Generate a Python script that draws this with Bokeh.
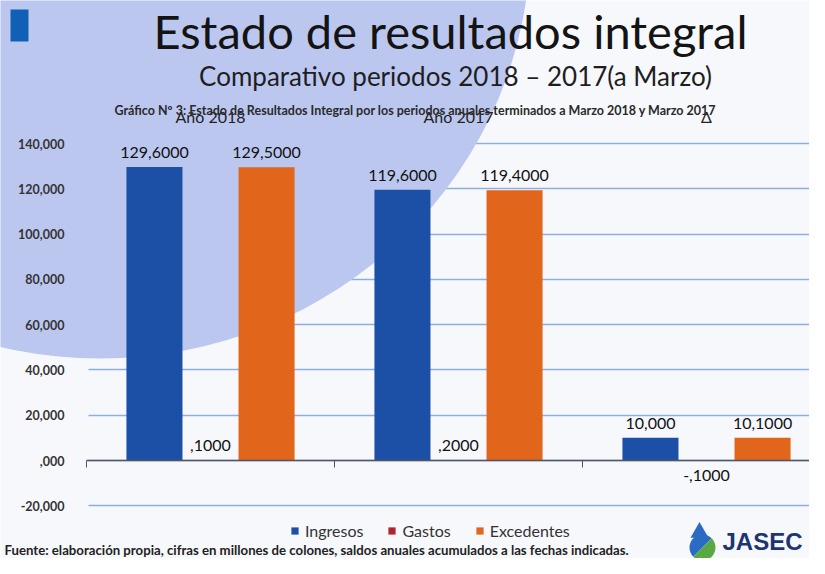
from bokeh.plotting import figure
from bokeh.models import ColumnDataSource, FixedTicker, Label, Legend, LegendItem, Range1d, LinearAxis
from bokeh.core.properties import value
from bokeh.embed import file_html
from bokeh.resources import INLINE

# ---------------- data ----------------
categories = ["Año 2018", "Año 2017", "Δ"]
ingresos = [129.6, 119.6, 10.0]
gastos = [0.1, 0.2, -0.1]
excedentes = [129.5, 119.4, 10.1]
ingresos_labels = ["129,6000", "119,6000", "10,000"]
gastos_labels = [",1000", ",2000", "-,1000"]
excedentes_labels = ["129,5000", "119,4000", "10,1000"]
y_ticks = [-20, 0, 20, 40, 60, 80, 100, 120, 140]
y_tick_labels = ["-20,000", ",000", "20,000", "40,000", "60,000", "80,000",
                 "100,000", "120,000", "140,000"]
series_names = ["Ingresos", "Gastos", "Excedentes"]
series_colors = ["#1c4fa6", "#b0262c", "#e2651c"]

# ---------------- geometry (page layout) ----------------
W, H = 809, 558
PX = 248.0            # pixels per category
PY = 317.0 / 140.0    # pixels per unit of value
X0 = 210.0            # px of first category centre
Y0 = 460.0            # px of zero line
xs = -X0 / PX
xe = xs + W / PX
yt = Y0 / PY
yb = -(H - Y0) / PY


def fx(px):
    return xs + px / PX


def fy(py):
    return (Y0 - py) / PY


def lab(text, x, baseline, size, align="center", font="Lato", style="normal", color="#141414"):
    # place a label so that its alphabetic baseline sits at pixel row `baseline`
    return Label(x=x, y=H - (baseline - 0.37 * size), x_units="screen", y_units="screen",
                 text=text, text_align=align, text_baseline="alphabetic",
                 text_font=font, text_font_style=style,
                 text_font_size=f"{size}px", text_color=color)


p = figure(width=W, height=H, x_range=Range1d(xs, xe), y_range=Range1d(yb, yt),
           output_backend="svg", toolbar_location=None, title=None,
           min_border=0, min_border_left=0, min_border_right=0,
           min_border_top=0, min_border_bottom=0,
           background_fill_color="#f7f8fc", border_fill_color="#f7f8fc",
           outline_line_color=None)

# background decorative shape (light blue disc)
p.ellipse(x=[fx(100)], y=[fy(-60)], width=860 / PX, height=836 / PY,
          fill_color="#bcc7f0", line_color=None)
# small blue block top-left
p.quad(left=[fx(10)], right=[fx(28)], top=[fy(9)], bottom=[fy(41)],
       fill_color="#1160b6", line_color=None)

# grid
p.xgrid.visible = False
p.ygrid.ticker = FixedTicker(ticks=y_ticks)
p.ygrid.grid_line_color = "#8eafdd"
p.ygrid.grid_line_width = 1.6
try:
    p.ygrid.cross_bounds = (fx(88), xe)
except Exception:
    pass

# y axis
p.yaxis.fixed_location = fx(88)
p.yaxis.ticker = FixedTicker(ticks=y_ticks)
p.yaxis.major_label_overrides = {t: l for t, l in zip(y_ticks, y_tick_labels)}
p.yaxis.axis_line_color = None
p.yaxis.major_tick_line_color = None
p.yaxis.minor_tick_line_color = None
p.yaxis.major_label_standoff = 18
p.yaxis.major_label_text_font = "Lato"
p.yaxis.major_label_text_font_style = "bold"
p.yaxis.major_label_text_font_size = "12.5px"
p.yaxis.major_label_text_color = "#333333"

# x axis (zero line with category separators as minor ticks, no labels)
p.xaxis.fixed_location = 0
p.xaxis.ticker = FixedTicker(ticks=[], minor_ticks=[-0.5, 0.5, 1.5])
p.xaxis.bounds = (-0.5, xe)
p.xaxis.axis_line_color = "#55555f"
p.xaxis.axis_line_width = 1.6
p.xaxis.major_tick_line_color = None
p.xaxis.minor_tick_line_color = "#55555f"
p.xaxis.minor_tick_out = 7
p.xaxis.minor_tick_in = 0

# category labels axis (placed high, like the original)
cat_axis = LinearAxis(fixed_location=fy(131), ticker=FixedTicker(ticks=[0, 1, 2]),
                      major_label_overrides={i: c for i, c in enumerate(categories)},
                      axis_line_color=None, major_tick_line_color=None,
                      minor_tick_line_color=None, major_label_standoff=0,
                      major_label_text_font="Lato", major_label_text_font_size="16px",
                      major_label_text_color="#222222")
p.add_layout(cat_axis, "above")

# bars
bw = 0.226
offsets = [-bw, 0.0, bw]
series_vals = [ingresos, gastos, excedentes]
series_labels = [ingresos_labels, gastos_labels, excedentes_labels]
renderers = []
for name, vals, labs, off, col in zip(series_names, series_vals, series_labels, offsets, series_colors):
    xpos = [i + off for i in range(len(categories))]
    src = ColumnDataSource(dict(
        x=xpos, top=vals, text=labs,
        baseline=["bottom" if v >= 0 else "top" for v in vals],
        yoff=[-9 if v >= 0 else 9 for v in vals],
    ))
    r = p.vbar(x="x", top="top", bottom=0, width=bw, source=src,
               fill_color=col, line_color=None)
    renderers.append((name, r))
    p.text(x="x", y="top", text="text", source=src, text_align="center",
           text_baseline="baseline", y_offset="yoff",
           text_font=value("Lato"), text_font_size="16px", text_color="#111111")

legend = Legend(items=[LegendItem(label=n, renderers=[r]) for n, r in renderers],
                orientation="horizontal", location=(290, H - 540),
                background_fill_alpha=0, border_line_color=None,
                label_text_font="Lato", label_text_font_size="16px",
                label_text_color="#333333", glyph_width=9, glyph_height=9,
                label_standoff=6, spacing=24, padding=0, margin=0)
p.add_layout(legend)

# titles
p.add_layout(lab("Estado de resultados integral", 450, 48, 47))
p.add_layout(lab("Comparativo periodos 2018 – 2017(a Marzo)", 455, 85, 26, color="#1e1e1e"))
p.add_layout(lab("Gráfico Nº 3: Estado de Resultados Integral por los periodos anuales terminados a Marzo 2018 y Marzo 2017",
                 415, 115, 12.5, style="bold", color="#2a2a2a"))
p.add_layout(lab("Fuente: elaboración propia, cifras en millones de colones, saldos anuales acumulados a las fechas indicadas.",
                 4, 554, 13.2, align="left", style="bold", color="#222222"))

# JASEC logo (approximation)
p.wedge(x=[fx(702)], y=[fy(547)], radius=13 / PX, start_angle=0.785, end_angle=3.927,
        fill_color="#2a6cc4", line_color=None)
p.wedge(x=[fx(702)], y=[fy(547)], radius=13 / PX, start_angle=3.927, end_angle=0.785,
        fill_color="#5aa844", line_color=None)
p.scatter(x=[fx(699)], y=[fy(532)], size=18, marker="triangle",
          fill_color="#2a6cc4", line_color=None)
p.add_layout(lab("JASEC", 722, 550, 24, align="left", font="Liberation Sans",
                 style="bold", color="#1d3570"))

open("out.html", "w").write(file_html(p, INLINE))
